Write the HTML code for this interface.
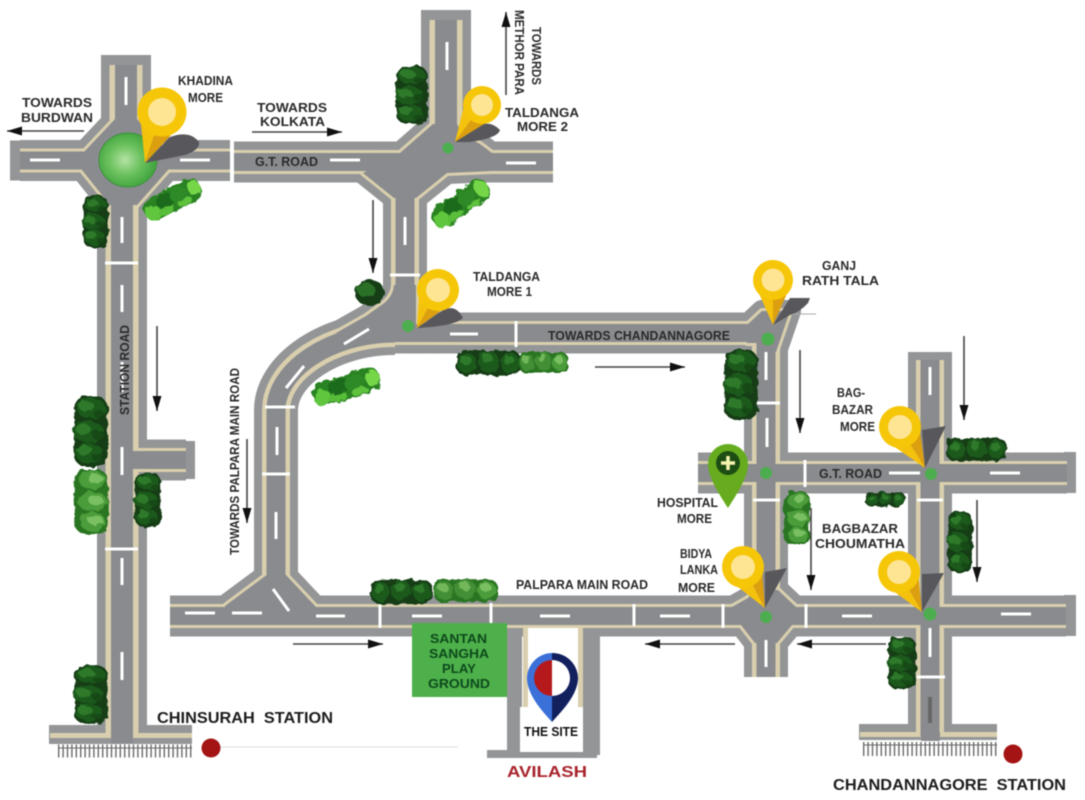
<!DOCTYPE html>
<html lang="en"><head><meta charset="utf-8"><title>Location map</title>
<style>
html,body{margin:0;padding:0;background:#fff;width:1085px;height:800px;overflow:hidden}
svg{display:block;filter:blur(.45px)}
text{font-family:"Liberation Sans",sans-serif;font-weight:bold;fill:#2a2a2a;font-size:12.5px}
.w{stroke:#fff;stroke-width:3;fill:none}
.ar{stroke:#444;stroke-width:1.6;fill:none}
.d{fill:#4cae4f}
.sh{fill:#58585c}
.h{fill:#f6c608}
.c1{fill:#f4c20d}
.c2{fill:#dc9f10}
.i{fill:#fde593}
</style></head><body>
<svg xmlns="http://www.w3.org/2000/svg" width="1085" height="800" viewBox="0 0 1085 800">
<defs>
<marker id="ar" markerUnits="userSpaceOnUse" markerWidth="16" markerHeight="10" refX="15" refY="5" orient="auto"><path d="M0 .5L15 5L0 9.5Z" fill="#111"/></marker>
<radialGradient id="gc" cx=".45" cy=".5"><stop offset="0" stop-color="#b4e2a4"/><stop offset=".55" stop-color="#6cc25e"/><stop offset="1" stop-color="#46a843"/></radialGradient>
<filter id="tf" x="-20%" y="-20%" width="140%" height="140%"><feTurbulence type="fractalNoise" baseFrequency=".14" numOctaves="2" seed="4"/><feDisplacementMap in="SourceGraphic" scale="6"/></filter>
<g id="a" fill="none"><path d="M20 160.5H230M234 162H553M130 460H186M170 616H1066M698 473H1067M395 333H770"/></g>
<g id="b" fill="none"><path d="M276 600V410C276 370 330 333 395 333M405 162V325M766 340V677M930 360V736"/></g>
<g id="c" fill="none"><path d="M126 65V125M122 195V736M446 20V125"/></g>
<g id="j" stroke-linejoin="round">
<polygon points="84,152 116,118 136,118 168,152 168,170 137,205 110,205 82,170"/>
<polygon points="400,153 433,124 457,124 462,134 480,144 492,153 492,171 447,173 416,198 394,198 363,173"/>
<path d="M394 285Q393 298 380 306L366 316L336 333L370 340L440 342V324H416V285Z"/>
<polygon points="747,325 762,311 790,311 776,352 757,352 757,343 747,343"/>
<polygon points="268,574 285,574 316,607 316,625 225,625 225,606"/>
<polygon points="732,607 748,598 754,590 778,590 796,607 792,625 777,643 755,643 741,625"/>
</g>
<symbol id="tv" viewBox="0 0 100 100" preserveAspectRatio="none">
<rect x="6" y="2" width="88" height="96" rx="30" ry="16" fill="#123d13"/>
<ellipse cx="50" cy="18" rx="38" ry="14" fill="#1e5a1e"/><ellipse cx="42" cy="50" rx="40" ry="15" fill="#1e5a1e"/><ellipse cx="46" cy="80" rx="36" ry="14" fill="#1e5a1e"/>
<ellipse cx="38" cy="15" rx="20" ry="7" fill="#2f7a2a"/><ellipse cx="70" cy="26" rx="14" ry="5" fill="#174a17"/><ellipse cx="30" cy="47" rx="20" ry="7" fill="#2f7a2a"/><ellipse cx="68" cy="55" rx="16" ry="6" fill="#174a17"/><ellipse cx="34" cy="76" rx="20" ry="7" fill="#2f7a2a"/><ellipse cx="66" cy="86" rx="14" ry="5" fill="#174a17"/>
</symbol>
<symbol id="th" viewBox="0 0 100 100" preserveAspectRatio="none">
<rect x="2" y="8" width="96" height="84" rx="14" ry="30" fill="#123d13"/>
<ellipse cx="18" cy="50" rx="14" ry="34" fill="#1e5a1e"/><ellipse cx="50" cy="46" rx="16" ry="36" fill="#1e5a1e"/><ellipse cx="82" cy="50" rx="14" ry="34" fill="#1e5a1e"/>
<ellipse cx="16" cy="40" rx="8" ry="16" fill="#2f7a2a"/><ellipse cx="48" cy="34" rx="8" ry="16" fill="#2f7a2a"/><ellipse cx="80" cy="40" rx="8" ry="16" fill="#2f7a2a"/>
</symbol>
<symbol id="lh" viewBox="0 0 100 100" preserveAspectRatio="none">
<rect x="2" y="8" width="96" height="84" rx="14" ry="30" fill="#2a7524"/>
<ellipse cx="18" cy="50" rx="14" ry="34" fill="#438f34"/><ellipse cx="50" cy="46" rx="16" ry="36" fill="#438f34"/><ellipse cx="82" cy="50" rx="14" ry="34" fill="#4c9c3a"/>
<ellipse cx="16" cy="38" rx="8" ry="16" fill="#72b85a"/><ellipse cx="48" cy="32" rx="8" ry="16" fill="#72b85a"/><ellipse cx="80" cy="38" rx="8" ry="16" fill="#7ac062"/>
</symbol>
<symbol id="lv" viewBox="0 0 100 100" preserveAspectRatio="none">
<rect x="6" y="2" width="88" height="96" rx="30" ry="16" fill="#2a7524"/>
<ellipse cx="54" cy="18" rx="36" ry="14" fill="#4c9c3a"/><ellipse cx="54" cy="50" rx="38" ry="15" fill="#4c9c3a"/><ellipse cx="54" cy="80" rx="34" ry="14" fill="#4c9c3a"/>
<ellipse cx="62" cy="16" rx="20" ry="7" fill="#7ac062"/><ellipse cx="62" cy="48" rx="20" ry="7" fill="#7ac062"/><ellipse cx="62" cy="78" rx="20" ry="7" fill="#7ac062"/>
</symbol>
<symbol id="ld" viewBox="0 0 100 100" preserveAspectRatio="none">
<rect x="2" y="6" width="96" height="88" rx="16" ry="34" fill="#2a8322"/>
<ellipse cx="14" cy="62" rx="12" ry="30" fill="#5fc63c"/><ellipse cx="40" cy="40" rx="16" ry="28" fill="#1f6a1e"/><ellipse cx="62" cy="44" rx="14" ry="28" fill="#2f8a28"/><ellipse cx="88" cy="50" rx="10" ry="32" fill="#74d647"/>
<ellipse cx="34" cy="78" rx="14" ry="14" fill="#58bd38"/><ellipse cx="66" cy="80" rx="12" ry="12" fill="#5ec23c"/>
</symbol>
</defs>

<!-- outer layer -->
<g fill="#939597" stroke="none">
<rect x="10" y="140.5" width="11" height="40"/><rect x="101" y="55" width="50" height="11"/>
<rect x="421" y="10" width="50" height="11"/><rect x="908" y="352" width="44" height="10"/>
<rect x="1064" y="452" width="12" height="41"/><rect x="1064" y="595" width="12" height="41"/>
<rect x="184" y="441" width="11" height="38"/>
<rect x="49" y="725" width="143" height="19"/><rect x="859" y="724" width="138" height="16"/>
<rect x="507" y="625" width="15" height="130"/><rect x="583" y="625" width="17" height="130"/><rect x="487" y="750" width="110" height="8"/>
</g>
<g stroke="#939597"><use href="#a" stroke-width="41"/><use href="#b" stroke-width="44"/><use href="#c" stroke-width="50"/><use href="#j" fill="#939597" stroke-width="22"/></g>
<!-- tan layer -->
<g fill="#d9cfae" stroke="none"><rect x="50" y="733" width="142" height="5"/><rect x="860" y="732" width="137" height="5"/>
<rect x="523" y="623" width="60" height="84"/></g>
<g stroke="#d9cfae"><use href="#a" stroke-width="24"/><use href="#b" stroke-width="28"/><use href="#c" stroke-width="33"/><use href="#j" fill="#d9cfae" stroke-width="6"/></g>
<!-- inner layer -->
<g stroke="#898b8e"><use href="#a" stroke-width="18"/><use href="#b" stroke-width="19"/><use href="#c" stroke-width="22"/><use href="#j" fill="#898b8e" stroke-width="0"/></g>
<g fill="#898b8e"><rect x="111" y="733" width="22" height="11"/><rect x="921" y="732" width="19" height="9"/></g>
<rect x="528" y="628" width="50" height="80" fill="#fff"/>
<rect x="520" y="707" width="63" height="45" fill="#fff"/>

<!-- rails -->
<g fill="none" stroke="#6a6a6c">
<path d="M58 751H192" stroke-width="13" stroke-dasharray="1.4 3"/><path d="M58 748H192" stroke-width="1"/>
<path d="M863 749H997" stroke-width="14" stroke-dasharray="1.4 3"/><path d="M863 745H997" stroke-width="1"/>
</g>

<!-- road markings -->
<path class="w" d="M30 160H60M180 160H210M330 160H360M506 163H536M450 334H478M185 613H215M232 613H262M316 616H345M412 616H442M540 616H570M660 616H690M842 616H872M1001 614H1031M889 473H920M990 473H1020
M126 77V105M122 217V243M122 285V312M122 362V392M122 447V475M122 558V585M122 652V680M447 42V70M405 217V245M277 427V455M276 512V539M766 352V380M767 418V447M766 640V667M930 367V395M930 628V657
M344 344L369 329M286 388L304 366M273 589L289 611"/>
<path class="w" d="M105 263H138M105 549H138M390 275H420M265 407H295M262 474H290M755 403H780M753 500H780M917 500H943M917 677H945"/>
<path class="w" d="M232 139V184M516 321V347M380 602V628M491 603V625M634 604V626M723 604V628M806 604V628M805 460V487"/>
<path d="M930 697V723" stroke="#666" stroke-width="4"/>
<path d="M790 314H816" stroke="#aaa" stroke-width="1"/>

<!-- roundabout -->
<ellipse cx="128" cy="160" rx="29" ry="27" fill="url(#gc)" stroke="#3f8f3f" stroke-width="1"/>

<!-- trees -->
<g filter="url(#tf)">
<use href="#tv" x="81" y="195" width="29" height="53"/>
<use href="#ld" x="0" y="0" width="64" height="26" transform="translate(138,203) rotate(-28)"/>
<use href="#tv" x="72" y="395" width="38" height="73"/>
<use href="#lv" x="72" y="468" width="38" height="67"/>
<use href="#tv" x="133" y="472" width="30" height="56"/>
<use href="#tv" x="394" y="65" width="36" height="60"/>
<use href="#ld" x="0" y="0" width="68" height="27" transform="translate(425,212) rotate(-35)"/>
<ellipse cx="370" cy="293" rx="15" ry="13" fill="#123d13"/><ellipse cx="366" cy="290" rx="9" ry="7" fill="#2c6f28"/>
<use href="#ld" x="0" y="0" width="72" height="27" transform="translate(308,385) rotate(-18)"/>
<use href="#th" x="455" y="348" width="67" height="30"/>
<use href="#lh" x="518" y="350" width="51" height="25"/>
<use href="#th" x="369" y="577" width="64" height="29"/>
<use href="#lh" x="432" y="577" width="67" height="27"/>
<use href="#tv" x="722" y="348" width="38" height="73"/>
<use href="#lv" x="782" y="490" width="29" height="56"/>
<use href="#th" x="945" y="436" width="63" height="27"/>
<use href="#th" x="865" y="491" width="41" height="17"/>
<use href="#tv" x="946" y="510" width="28" height="64"/>
<use href="#tv" x="886" y="636" width="32" height="54"/>
<use href="#tv" x="72" y="664" width="38" height="61"/>
</g>

<!-- arrows -->
<g class="ar">
<path d="M84 131H7" marker-end="url(#ar)"/><path d="M252 132H342" marker-end="url(#ar)"/>
<path d="M506 95V12" marker-end="url(#ar)"/><path d="M373 200V273" marker-end="url(#ar)"/>
<path d="M157 326V411" marker-end="url(#ar)"/><path d="M247 439V523" marker-end="url(#ar)"/>
<path d="M595 367H685" marker-end="url(#ar)"/><path d="M800 350V433" marker-end="url(#ar)"/>
<path d="M964 336V420" marker-end="url(#ar)"/><path d="M811 508V590" marker-end="url(#ar)"/>
<path d="M977 500V582" marker-end="url(#ar)"/><path d="M293 644H383" marker-end="url(#ar)"/>
<path d="M735 644H645" marker-end="url(#ar)"/><path d="M886 644H797" marker-end="url(#ar)"/>
</g>
<path d="M220 747H458" stroke="#ddd" stroke-width="1"/>
<circle cx="211" cy="748" r="9.5" fill="#a51414"/><circle cx="1013" cy="754" r="9.5" fill="#a51414"/>

<!-- green box + site -->
<rect x="412" y="623" width="95" height="74" fill="#4db04a"/>
<g>
<text x="430" y="643" textLength="57" lengthAdjust="spacingAndGlyphs" style="fill:#0e4a1c">SANTAN</text>
<text x="429" y="658" textLength="60" lengthAdjust="spacingAndGlyphs" style="fill:#0e4a1c">SANGHA</text>
<text x="442" y="673" textLength="34" lengthAdjust="spacingAndGlyphs" style="fill:#0e4a1c">PLAY</text>
<text x="428" y="688" textLength="62" lengthAdjust="spacingAndGlyphs" style="fill:#0e4a1c">GROUND</text>
</g>
<path d="M552 653A25.500 25.500 0 0 0 527 678C527 695 543 712 552 722Z" fill="#3a70d8"/>
<path d="M552 653A25.500 25.500 0 0 1 578 678C578 695 561 712 552 722Z" fill="#12205e"/>
<path d="M552 660A18 18 0 0 0 552 696Z" fill="#b5191c"/><path d="M552 660A18 18 0 0 1 552 696Z" fill="#fff"/>

<!-- labels -->
<g>
<text x="22" y="107" textLength="70" lengthAdjust="spacingAndGlyphs">TOWARDS</text>
<text x="21" y="122" textLength="72" lengthAdjust="spacingAndGlyphs">BURDWAN</text>
<text x="178" y="85" textLength="55" lengthAdjust="spacingAndGlyphs">KHADINA</text>
<text x="188" y="102" textLength="35" lengthAdjust="spacingAndGlyphs">MORE</text>
<text x="257" y="112" textLength="70" lengthAdjust="spacingAndGlyphs">TOWARDS</text>
<text x="260" y="126" textLength="65" lengthAdjust="spacingAndGlyphs">KOLKATA</text>
<text x="255" y="166" textLength="63" lengthAdjust="spacingAndGlyphs">G.T. ROAD</text>
<text transform="translate(532,27) rotate(90)" textLength="58" lengthAdjust="spacingAndGlyphs">TOWARDS</text>
<text transform="translate(515,10) rotate(90)" textLength="85" lengthAdjust="spacingAndGlyphs">METHOR PARA</text>
<text x="505" y="117" textLength="74" lengthAdjust="spacingAndGlyphs">TALDANGA</text>
<text x="517" y="131" textLength="51" lengthAdjust="spacingAndGlyphs">MORE 2</text>
<text x="473" y="281" textLength="67" lengthAdjust="spacingAndGlyphs">TALDANGA</text>
<text x="487" y="296" textLength="45" lengthAdjust="spacingAndGlyphs">MORE 1</text>
<text x="822" y="270" textLength="34" lengthAdjust="spacingAndGlyphs">GANJ</text>
<text x="802" y="285" textLength="77" lengthAdjust="spacingAndGlyphs">RATH TALA</text>
<text x="548" y="340" textLength="182" lengthAdjust="spacingAndGlyphs">TOWARDS CHANDANNAGORE</text>
<text transform="translate(239,555) rotate(-90)" textLength="187" lengthAdjust="spacingAndGlyphs">TOWARDS PALPARA MAIN ROAD</text>
<text transform="translate(129,415) rotate(-90)" textLength="90" lengthAdjust="spacingAndGlyphs">STATION ROAD</text>
<text x="837" y="397" textLength="28" lengthAdjust="spacingAndGlyphs">BAG-</text>
<text x="832" y="414" textLength="41" lengthAdjust="spacingAndGlyphs">BAZAR</text>
<text x="840" y="431" textLength="35" lengthAdjust="spacingAndGlyphs">MORE</text>
<text x="819" y="478" textLength="63" lengthAdjust="spacingAndGlyphs">G.T. ROAD</text>
<text x="657" y="507" textLength="61" lengthAdjust="spacingAndGlyphs">HOSPITAL</text>
<text x="677" y="523" textLength="35" lengthAdjust="spacingAndGlyphs">MORE</text>
<text x="680" y="558" textLength="32" lengthAdjust="spacingAndGlyphs">BIDYA</text>
<text x="680" y="574" textLength="38" lengthAdjust="spacingAndGlyphs">LANKA</text>
<text x="678" y="592" textLength="37" lengthAdjust="spacingAndGlyphs">MORE</text>
<text x="822" y="533" textLength="76" lengthAdjust="spacingAndGlyphs">BAGBAZAR</text>
<text x="815" y="548" textLength="90" lengthAdjust="spacingAndGlyphs">CHOUMATHA</text>
<text x="516" y="589" textLength="132" lengthAdjust="spacingAndGlyphs">PALPARA MAIN ROAD</text>
<text x="157" y="723" textLength="176" lengthAdjust="spacingAndGlyphs" style="font-size:16px;fill:#1c1c1c" xml:space="preserve">CHINSURAH  STATION</text>
<text x="524" y="736" textLength="54" lengthAdjust="spacingAndGlyphs" style="fill:#111">THE SITE</text>
<text x="507" y="777" textLength="80" lengthAdjust="spacingAndGlyphs" style="font-size:16px;fill:#a8232c">AVILASH</text>
<text x="833" y="790" textLength="233" lengthAdjust="spacingAndGlyphs" style="font-size:16px;fill:#1c1c1c" xml:space="preserve">CHANDANNAGORE  STATION</text>
</g>

<!-- green dots -->
<circle class="d" cx="448" cy="148" r="5.500"/><circle class="d" cx="408" cy="326" r="6"/><circle class="d" cx="768" cy="339" r="6.500"/>
<circle class="d" cx="766" cy="473" r="6"/><circle class="d" cx="931" cy="474" r="6"/><circle class="d" cx="766" cy="617" r="6"/><circle class="d" cx="930" cy="614" r="6.500"/>

<!-- pins -->
<path class="sh" d="M145 163L170 137Q190 130 199 142Q200 150 185 155Z"/>
<polygon class="c1" points="139,104 145,163 162,112"/><polygon class="c2" points="185,120 145,163 162,112"/>
<circle class="h" cx="162" cy="112" r="24.500"/><circle class="i" cx="162" cy="112" r="14"/>

<path class="sh" d="M455 142L475 127Q490 119 500 130Q498 138 470 142Z"/>
<polygon class="c1" points="467,94 455,142 482,105"/><polygon class="c2" points="497,116 455,142 482,105"/>
<circle class="h" cx="482" cy="105" r="19"/><circle class="i" cx="482" cy="105" r="11"/>

<path class="sh" d="M417 328L440 312Q455 302 463 318Q455 326 417 328Z"/>
<polygon class="c1" points="420,280 417,328 438,290"/><polygon class="c2" points="456,300 417,328 438,290"/>
<circle class="h" cx="438" cy="290" r="21"/><circle class="i" cx="438" cy="290" r="12"/>

<path class="sh" d="M773 325L790 298H810L808 303Q800 312 790 315Z"/>
<polygon class="c1" points="753,280 773,325 773,280"/><polygon class="c2" points="793,280 773,325 773,280"/>
<circle class="h" cx="773" cy="280" r="20"/><circle class="i" cx="773" cy="280" r="11.500"/>

<polygon class="sh" points="925,468 922,430 946,426"/>
<polygon class="c1" points="882,438 925,468 900,427"/><polygon class="c2" points="918,416 925,468 900,427"/>
<circle class="h" cx="900" cy="427" r="21"/><circle class="i" cx="900" cy="427" r="12"/>

<polygon class="sh" points="765,608 765,572 787,568"/>
<polygon class="c1" points="725,577 765,608 743,567"/><polygon class="c2" points="761,557 765,608 743,567"/>
<circle class="h" cx="743" cy="567" r="21"/><circle class="i" cx="743" cy="567" r="12"/>

<polygon class="sh" points="922,612 922,574 944,573"/>
<polygon class="c1" points="881,582 922,612 899,572"/><polygon class="c2" points="917,562 922,612 899,572"/>
<circle class="h" cx="899" cy="572" r="21"/><circle class="i" cx="899" cy="572" r="12"/>

<!-- hospital pin -->
<path d="M708 464A20 20 0 0 1 748 464C748 478 735 497 728 508C721 497 708 478 708 464Z" fill="#66ac1e"/>
<circle cx="728" cy="463" r="12" fill="#1e4d14"/>
<path d="M721 463H735M728 456V470" stroke="#f7f3b0" stroke-width="3.500"/>
</svg>
</body></html>
